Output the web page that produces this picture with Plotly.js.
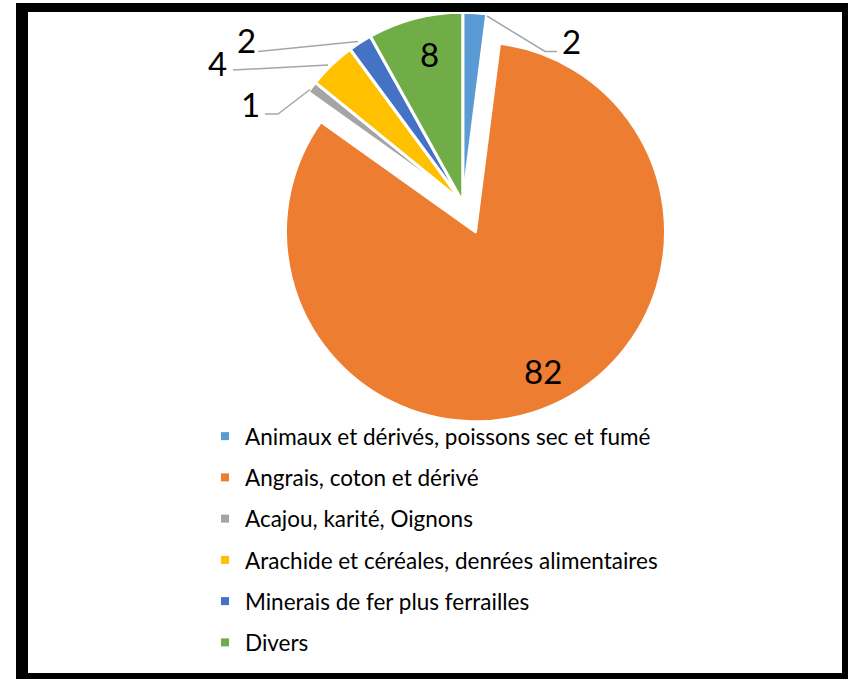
<!DOCTYPE html>
<html><head><meta charset="utf-8">
<script src="https://cdn.plot.ly/plotly-3.0.1.min.js"></script>
<style>html,body{margin:0;padding:0;background:#fff;overflow:hidden;} #chart{width:848px;height:679px;}</style>
</head><body><div id="chart"></div>
<script>
// ---- data ----
const categories = [
  "Animaux et dérivés, poissons sec et fumé",
  "Angrais, coton et dérivé",
  "Acajou, karité, Oignons",
  "Arachide et céréales, denrées alimentaires",
  "Minerais de fer plus ferrailles",
  "Divers"
];
const values = [2, 82, 1, 4, 2, 8];
const colors = ["#5B9BD5", "#ED7D31", "#A5A5A5", "#FFC000", "#4472C4", "#70AD47"];
const explodedIndex = 1;

// ---- layout helpers (pixels -> paper) ----
const W = 848, H = 679;
const px = x => x / W;
const py = y => 1 - y / H;
function domainFor(c, r) {
  return { x: [px(c[0] - r), px(c[0] + r)], y: [py(c[1] + r), py(c[1] - r)] };
}
const R = 190;
const mainCenter = [462.75, 202.25];
const pulledCenter = [475.5, 231.75];
const CLEAR = "rgba(0,0,0,0)";

// trace A: every slice except the exploded one
const traceA = {
  type: "pie", labels: categories, values: values, sort: false,
  direction: "clockwise", rotation: 0,
  domain: domainFor(mainCenter, R),
  marker: {
    colors: colors.map((c, i) => i === explodedIndex ? CLEAR : c),
    line: { color: colors.map((c, i) => i === explodedIndex ? CLEAR : "#ffffff"), width: 3 }
  },
  textinfo: "none",
  showlegend: false, hoverinfo: "label+value"
};
// trace B: the exploded slice, drawn around its shifted centre
const traceB = {
  type: "pie", labels: categories, values: values, sort: false,
  direction: "clockwise", rotation: 0,
  domain: domainFor(pulledCenter, R),
  marker: {
    colors: colors.map((c, i) => i === explodedIndex ? c : CLEAR),
    line: { color: colors.map((c, i) => i === explodedIndex ? "#ffffff" : CLEAR), width: 3 }
  },
  textinfo: "none",
  showlegend: false, hoverinfo: "label+value"
};

// legend entries
const legendTraces = categories.map((name, i) => ({
  type: "scatter", x: [null], y: [null], mode: "markers", name: name,
  legendgroup: "g" + i, showlegend: true,
  marker: { symbol: "square", size: 8, color: colors[i] },
  hoverinfo: "skip"
}));

// data label positions (pixels)
const labelPos = { 0: [571, 41], 1: [543, 371], 2: [251, 103.5], 3: [217.5, 62.5], 4: [246, 40], 5: [429, 54] };
const annotations = Object.keys(labelPos).map(k => ({
  xref: "paper", yref: "paper", x: px(labelPos[k][0]), y: py(labelPos[k][1]),
  xanchor: "center", yanchor: "middle", showarrow: false,
  text: String(values[+k]),
  font: { family: "Lato, sans-serif", size: 33, color: "#000" }
}));

// leader lines (pixels)
const leaders = [
  [[487, 16], [545, 51.5], [557, 51.5]],
  [[310, 89.5], [278, 114], [265, 114]],
  [[328, 65], [233, 70]],
  [[358, 41.5], [258, 51.5]]
];
const shapes = leaders.map(pts => ({
  type: "path", xref: "paper", yref: "paper",
  path: pts.map((p, j) => (j ? "L" : "M") + px(p[0]) + "," + py(p[1])).join(" "),
  line: { color: "#A6A6A6", width: 1.5 }
}));
// black frame
const frame = [[16, 3, 28, 679], [16, 3, 848, 12], [842, 3, 848, 679], [16, 673, 848, 679]];
frame.forEach(f => shapes.push({
  type: "rect", xref: "paper", yref: "paper",
  x0: px(f[0]), x1: px(f[2]), y0: py(f[3]), y1: py(f[1]),
  fillcolor: "#000", line: { width: 0 }
}));

const layout = {
  width: W, height: H, margin: { l: 0, r: 0, t: 0, b: 0 },
  paper_bgcolor: "#fff", plot_bgcolor: "rgba(0,0,0,0)",
  font: { family: "Lato, sans-serif", color: "#000" },
  xaxis: { visible: false, range: [0, 1] }, yaxis: { visible: false, range: [0, 1] },
  showlegend: true,
  legend: {
    x: px(205), y: py(415), xanchor: "left", yanchor: "top",
    font: { family: "Lato, sans-serif", size: 22.5, color: "#000" },
    tracegroupgap: 9, bgcolor: "rgba(0,0,0,0)"
  },
  annotations: annotations,
  shapes: shapes
};

Plotly.newPlot("chart", [traceB, traceA].concat(legendTraces), layout, { staticPlot: true, displayModeBar: false });
</script></body></html>
